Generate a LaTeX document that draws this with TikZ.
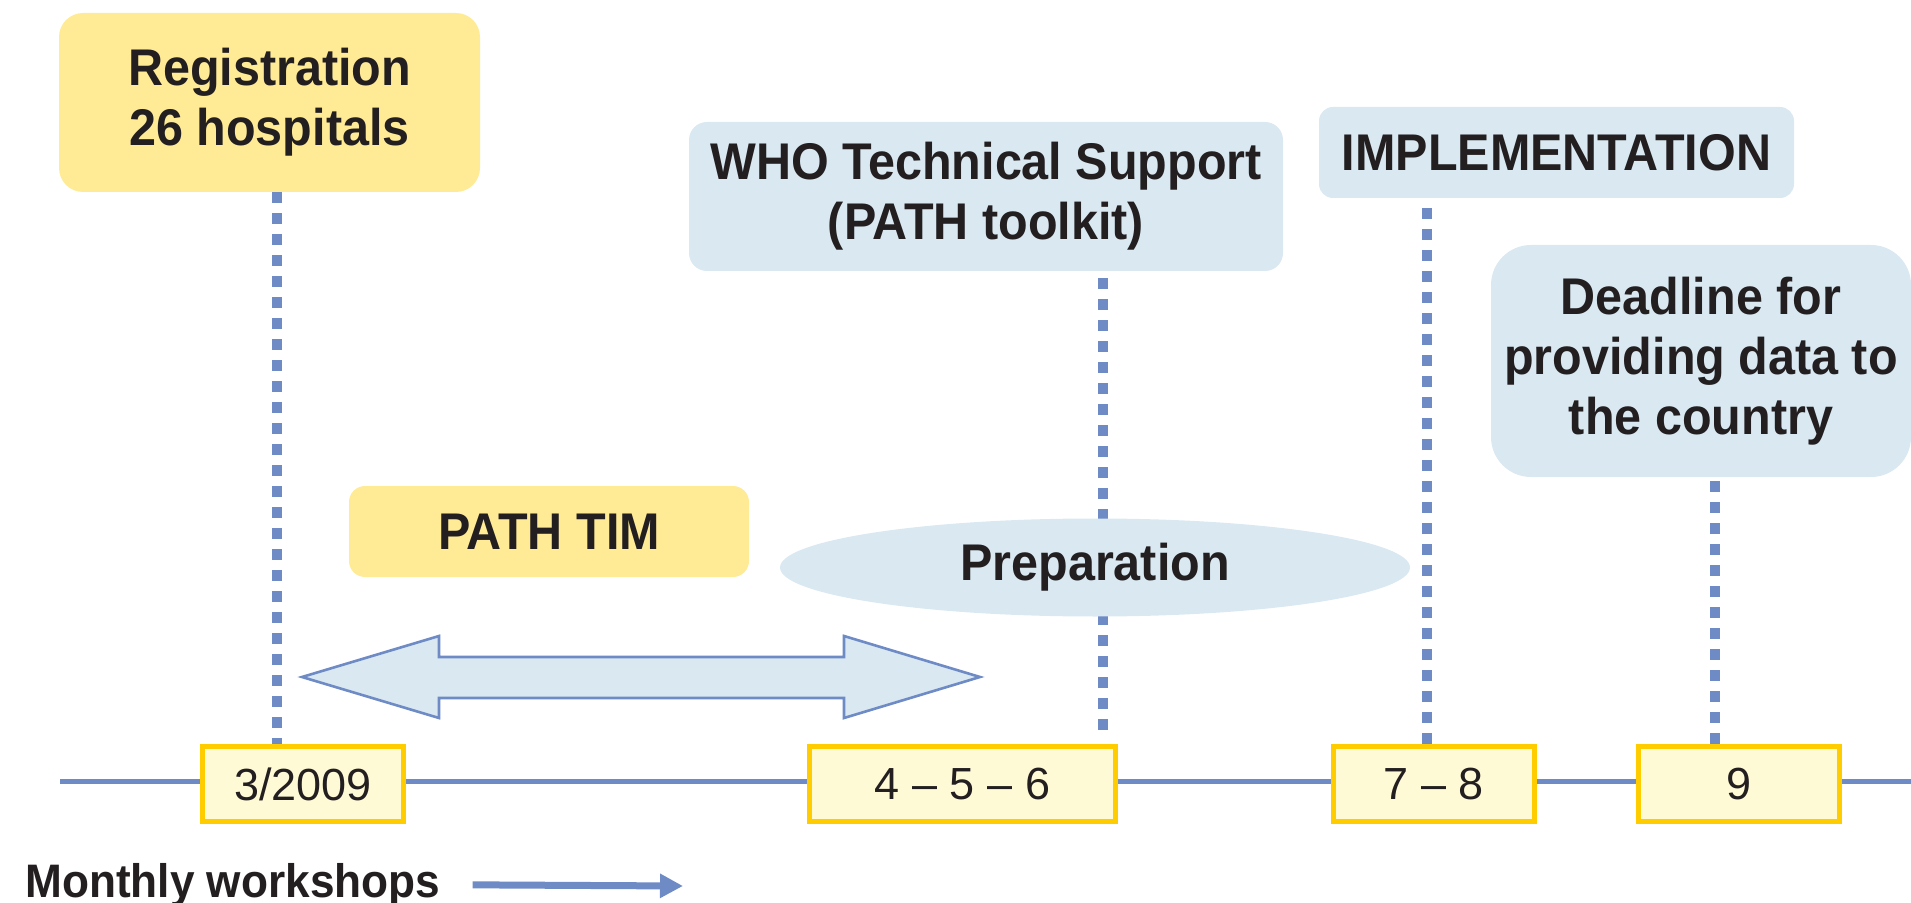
\documentclass[tikz,border=0pt]{standalone}
\usepackage{fontspec}
\setmainfont{Liberation Sans}
\newfontfamily\headfont[FakeStretch=0.94]{Liberation Sans}
\usepackage{tikz}
\usetikzlibrary{calc,arrows,arrows.meta,shapes.geometric,backgrounds}
\definecolor{lineblue}{HTML}{6E8BC6}
\definecolor{paleblue}{HTML}{D9E8F1}
\definecolor{paleyellow}{HTML}{FFEB96}
\definecolor{dateframe}{HTML}{FFCC00}
\definecolor{datefill}{HTML}{FFFAD6}
\definecolor{ink}{HTML}{231F20}

\begin{document}
\begin{tikzpicture}[x=0.5pt,y=-0.5pt]
                      \tikzstyle{notebox}=[inner sep=0pt,align=center,text=ink,font=\headfont\bfseries\fontsize{25.8}{30}\selectfont]
                      \tikzstyle{datebox}=[draw=dateframe,line width=2.5pt,fill=datefill,minimum height=37.5pt,inner sep=0pt,text=ink,font=\fontsize{22.5}{27}\selectfont]
                      \tikzstyle{tline}=[draw=lineblue,line width=2.5pt]
                      \tikzstyle{vline}=[draw=lineblue,line width=5pt,dash pattern=on 5.5pt off 5pt]
                      \tikzstyle{dblarrow}=[draw=lineblue,line width=1.3pt,fill=paleblue,line join=miter]
                      \useasboundingbox (0,0) rectangle (1911,903);
                      \node[notebox,fill=paleyellow,minimum width=210.5pt,minimum height=89.5pt,rounded corners=12pt] (reg) at (269.5,102.5) {Registration\\26 hospitals};
                      \node[notebox,fill=paleblue,minimum width=297pt,minimum height=74.5pt,rounded corners=9pt] (who) at (986,196.5) {WHO Technical Support\\(PATH toolkit)};
                      \node[notebox,fill=paleblue,minimum width=237.5pt,minimum height=45.5pt,rounded corners=7pt] (impl) at (1556.5,152.5) {IMPLEMENTATION};
                      \node[notebox,fill=paleblue,minimum width=210pt,minimum height=116pt,rounded corners=20pt] (dead) at (1701,361) {Deadline for\\providing data to\\the country};
                      \node[notebox,fill=paleyellow,minimum width=200pt,minimum height=45.5pt,rounded corners=8pt] (tim) at (549,531.5) {PATH TIM};
                      \node[notebox,ellipse,fill=paleblue,minimum width=315pt,minimum height=49pt] (prep) at (1095,567.5) {Preparation};
                      \node[datebox,minimum width=100.5pt] (d1) at (303,784) {3/2009};
                      \node[datebox,minimum width=153pt] (d2) at (962.5,784) {4 -- 5 -- 6};
                      \node[datebox,minimum width=100.5pt] (d3) at (1434,784) {7 -- 8};
                      \node[datebox,minimum width=100.5pt] (d4) at (1738.5,784) {9};
                      \draw[dblarrow] (302,677) -- (439,636) -- (439,657) -- (844,657) -- (844,636) -- (980,677) -- (844,718) -- (844,698) -- (439,698) -- (439,718) -- cycle;
                      \node[anchor=base west,inner sep=0pt,text=ink,font=\headfont\bfseries\fontsize{23.5}{28}\selectfont] (mw) at (25,897) {Monthly workshops};
                      \coordinate (mwtip) at (683,886);
                      \draw[lineblue,line width=3.5pt,-{Triangle[length=11.5pt,width=11.5pt]}] ([xshift=16pt]mw.east) -- (mwtip);
                      \begin{scope}[on background layer]
                      \coordinate (tl0) at (60,781);
                      \coordinate (tl1) at (1911,781);
                      \draw[tline] (tl0) -- (tl1);
                      \draw[vline] ($(reg.south)+(7.5,0)$) -- ($(reg.south |- d1.north)+(7.5,0)$);
                      \draw[vline] ($(who.south -| prep.center)+(8,7)$) -- ($(prep.center |- d2.north)+(8,-12)$);
                      \draw[vline] ($(d3.north)+(-7,0)$) -- ($(d3.north |- impl.south)+(-7,0)$);
                      \draw[vline] ($(d4.north)+(-23.5,0)$) -- ($(d4.north |- dead.south)+(-23.5,0)$);
                      \end{scope}
                  \end{tikzpicture}
\end{document}
